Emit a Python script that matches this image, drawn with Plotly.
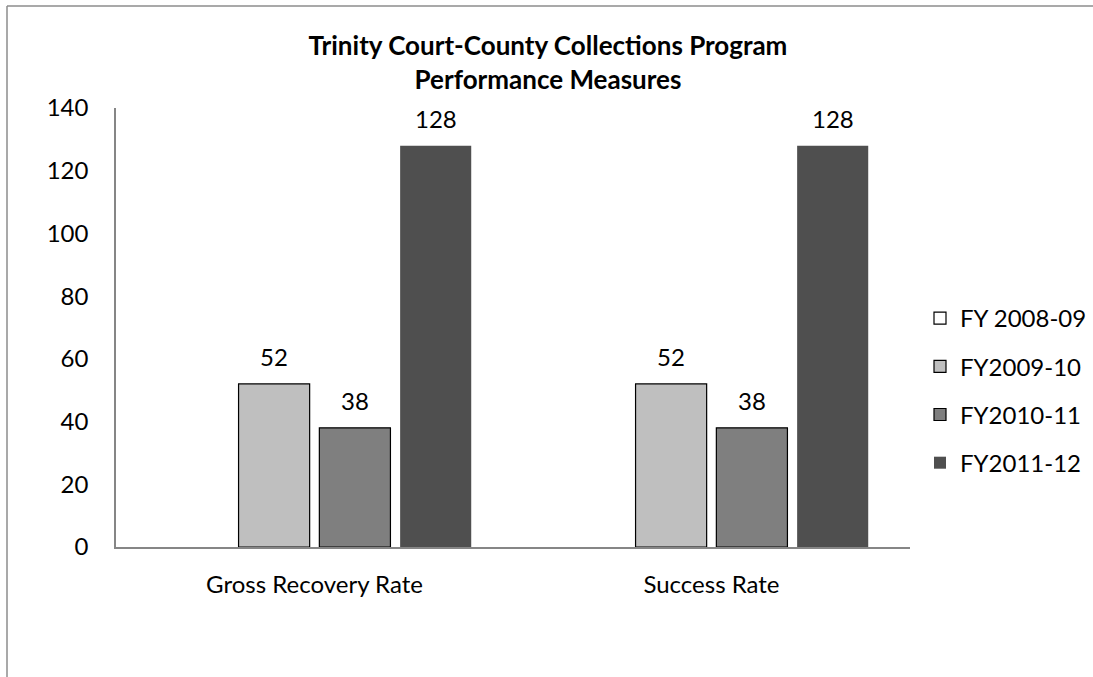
import plotly.graph_objects as go

# Performance measures by fiscal year
categories = ["Gross Recovery Rate", "Success Rate"]
series_names = ["FY 2008-09", "FY2009-10", "FY2010-11", "FY2011-12"]
fy2008_09 = [None, None]
fy2009_10 = [52, 52]
fy2010_11 = [38, 38]
fy2011_12 = [128, 128]
y_ticks = [0, 20, 40, 60, 80, 100, 120, 140]

series_values = [fy2008_09, fy2009_10, fy2010_11, fy2011_12]
fills = ["#FFFFFF", "#BFBFBF", "#7F7F7F", "#4F4F4F"]
outlines = ["#000000", "#000000", "#000000", "#4F4F4F"]
outline_w = [1.2, 1.2, 1.2, 0]

W, H = 1093, 677
L, R, T, B = 116, 910, 108, 547  # plot area in pixels
FONT = "Lato"
FS = 24
BARGAP = 0.186
GROUPGAP = 0.12

fig = go.Figure()
for i, (name, vals) in enumerate(zip(series_names, series_values)):
    fig.add_trace(go.Bar(
        x=categories, y=vals, name=name, legendgroup=name,
        marker=dict(color=fills[i], line=dict(color=outlines[i], width=outline_w[i])),
        hoverinfo="x+y+name",
    ))

# value labels above each bar, placed at the bar's slot inside its group
slot = (1 - BARGAP) / len(series_names)
annotations = []
for i, vals in enumerate(series_values):
    offset = -(1 - BARGAP) / 2 + slot * (i + 0.5)
    for ci, v in enumerate(vals):
        if v is None:
            continue
        annotations.append(dict(
            x=ci + offset, y=v, xref="x", yref="y", text=str(v),
            showarrow=False, yanchor="bottom", yshift=11,
            font=dict(family=FONT, size=FS, color="#000000"),
        ))

pw, ph = R - L, B - T
def px_x(p):
    return (p - L) / pw
def px_y(p):
    return (B - p) / ph

# chart frame (left and top edges)
shapes = [
    dict(type="line", xref="paper", yref="paper",
         x0=px_x(7), x1=px_x(7), y0=px_y(6), y1=px_y(H + 5),
         line=dict(color="#8C8C8C", width=1.5)),
    dict(type="line", xref="paper", yref="paper",
         x0=px_x(7), x1=px_x(W + 5), y0=px_y(6), y1=px_y(6),
         line=dict(color="#8C8C8C", width=1.5)),
]

fig.update_layout(
    width=W, height=H,
    margin=dict(l=L, r=W - R, t=T, b=H - B, pad=0, autoexpand=False),
    paper_bgcolor="white", plot_bgcolor="white",
    barmode="group", bargap=BARGAP, bargroupgap=GROUPGAP,
    title=dict(
        text="Trinity Court-County Collections Program<br>Performance Measures",
        x=548 / W, xanchor="center",
        y=1 - 55 / H, yanchor="middle",
        font=dict(family=FONT, size=26, color="#000000", weight="bold"),
    ),
    font=dict(family=FONT, size=FS, color="#000000"),
    showlegend=True,
    legend=dict(
        x=px_x(920), xanchor="left", y=px_y(296), yanchor="top",
        font=dict(family=FONT, size=FS, color="#000000"),
        traceorder="grouped", tracegroupgap=14,
        bgcolor="rgba(0,0,0,0)", itemwidth=30,
    ),
    xaxis=dict(
        showline=True, linecolor="#868686", linewidth=1.5,
        ticks="", showgrid=False, ticklabelstandoff=15,
        tickfont=dict(family=FONT, size=FS, color="#000000"),
    ),
    yaxis=dict(
        range=[0, 140], tickvals=y_ticks, showline=True, linecolor="#868686",
        linewidth=1.5, ticks="", showgrid=False, zeroline=False,
        ticklabelstandoff=21,
        tickfont=dict(family=FONT, size=FS, color="#000000"),
    ),
    annotations=annotations,
    shapes=shapes,
)

fig.write_html("out.html")
